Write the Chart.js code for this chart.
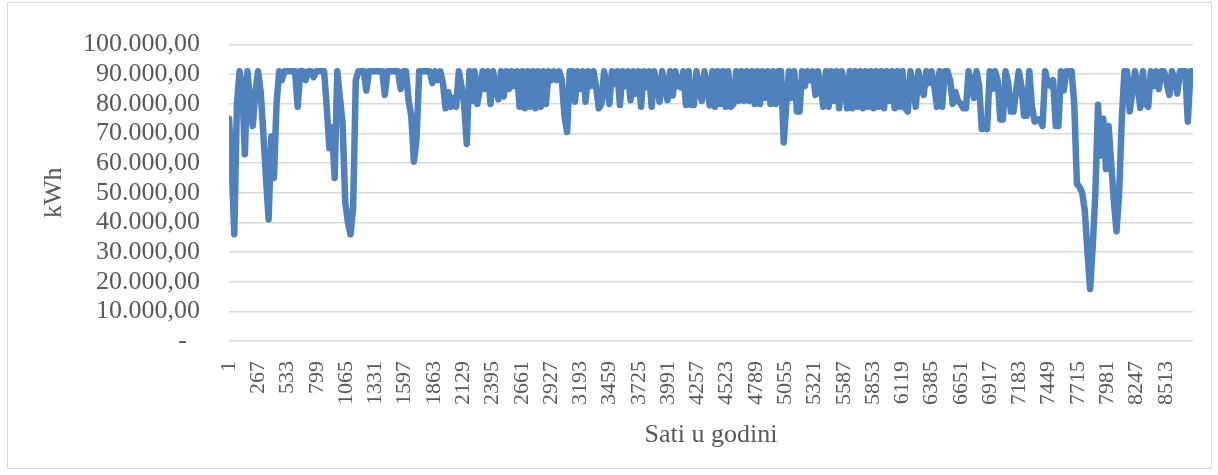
<!DOCTYPE html>
<html>
<head>
<meta charset="utf-8">
<title>Potrošnja po satima</title>
<script src="https://cdn.jsdelivr.net/npm/chart.js@4.4.1/dist/chart.umd.min.js"></script>
<style>
    html, body { margin: 0; padding: 0; background: #ffffff; }
    #okvir { position: relative; width: 1218px; height: 475px; }
    #rub { position: absolute; left: 7px; top: 2px; width: 1203px; height: 465px; border: 1px solid #d9d9d9; }
    #graf { position: absolute; left: 0; top: 0; }
</style>
</head>
<body>
<div id="okvir">
    <div id="rub"></div>
    <canvas id="graf" width="1218" height="475"></canvas>
</div>
<script>
// Potrošnja u kWh, očitano jednom dnevno (sat 1, 25, 49, ... do 8760)
const kwh = [
    75000, 60000, 36000, 80000, 91000, 86000, 63000, 91000, 80000, 72500,
    84000, 91000, 84000, 70000, 55000, 41000, 69000, 55000, 80000, 91000,
    88000, 91000, 91000, 91000, 91000, 91000, 79000, 91000, 91000, 88000,
    91000, 91000, 89000, 91000, 91000, 91000, 91000, 79000, 65000, 72000,
    55000, 91000, 82000, 73500, 47000, 40000, 36000, 45000, 88000, 91000,
    91000, 91000, 84500, 91000, 91000, 91000, 91000, 91000, 91000, 83000,
    91000, 91000, 91000, 91000, 91000, 85000, 91000, 91000, 81000, 76000,
    60500, 68000, 91000, 91000, 91000, 91000, 91000, 87000, 91000, 88000,
    91000, 87000, 78500, 84000, 79000, 82000, 79000, 91000, 86000, 80000,
    66500, 91000, 81000, 91000, 80000, 85000, 91000, 85000, 91000, 80000,
    91000, 85000, 81500, 91000, 82500, 91000, 85000, 91000, 86000, 91000,
    79000, 91000, 78500, 91000, 79000, 91000, 78500, 91000, 79000, 91000,
    80000, 91000, 88000, 91000, 88000, 91000, 88000, 76000, 70500, 91000,
    91000, 80700, 91000, 85000, 91000, 80700, 91000, 86000, 91000, 85600,
    78500, 80000, 91000, 86000, 80000, 91000, 86700, 91000, 79600, 91000,
    86000, 91000, 81200, 91000, 83400, 91000, 79000, 91000, 85600, 91000,
    79000, 91000, 86000, 80700, 91000, 86000, 81200, 91000, 82800, 91000,
    86000, 85600, 91000, 79600, 91000, 79600, 79600, 91000, 84500, 81000,
    91000, 86000, 79500, 91000, 79000, 91000, 80000, 91000, 79000, 91000,
    79000, 80000, 91000, 81000, 91000, 81000, 91000, 81000, 91000, 80000,
    91000, 80000, 91000, 82000, 91000, 80000, 91000, 80000, 91000, 91000,
    67000, 80000, 91000, 82000, 91000, 77400, 77400, 91000, 86000, 91000,
    88000, 91000, 83000, 91000, 86000, 79000, 91000, 79000, 91000, 81000,
    91000, 78500, 91000, 86500, 78500, 91000, 78500, 91000, 79000, 91000,
    78500, 91000, 79000, 91000, 78500, 91000, 79000, 91000, 78500, 91000,
    81000, 91000, 78500, 91000, 79000, 91000, 78500, 77400, 91000, 86000,
    79000, 91000, 86000, 83000, 91000, 87000, 91000, 86000, 79000, 91000,
    79000, 91000, 91000, 88000, 80000, 84000, 81000, 80000, 78500, 78500,
    91000, 87000, 82000, 91000, 86000, 71500, 72000, 71500, 91000, 85000,
    91000, 88000, 74700, 74700, 91000, 87000, 77400, 77400, 84500, 91000,
    86000, 76000, 76000, 91000, 79000, 74000, 74700, 74700, 72500, 91000,
    87000, 86000, 88000, 72500, 72500, 91000, 84500, 91000, 91000, 91000,
    80000, 53000, 52000, 50000, 44000, 30000, 17500, 32000, 50000, 79700,
    62600, 75000, 58000, 72500, 60000, 47000, 37000, 50000, 74700, 91000,
    91000, 77400, 84000, 91000, 86000, 78700, 91000, 80000, 79000, 91000,
    86000, 91000, 85000, 91000, 91000, 87000, 83000, 91000, 88000, 83500,
    91000, 91000, 91000, 74000, 91000, 91000
];

// Sat u godini za svako očitanje (svaka 24 sata, zadnje na 8760)
const sati = kwh.map((_, i) => Math.min(1 + 24 * i, 8760));

// Oznake na osi X svakih 266 sati
const oznakeSati = [1, 267, 533, 799, 1065, 1331, 1597, 1863, 2129, 2395, 2661, 2927, 3193,
    3459, 3725, 3991, 4257, 4523, 4789, 5055, 5321, 5587, 5853, 6119, 6385, 6651, 6917,
    7183, 7449, 7715, 7981, 8247, 8513];

const naslovX = 'Sati u godini';
const naslovY = 'kWh';

// Format brojeva: 90.000,00 ; nula kao crtica
function formatKwh(v) {
    if (v === 0) return '-\u00a0\u00a0';
    return String(v).replace(/\B(?=(\d{3})+(?!\d))/g, '.') + ',00';
}

document.addEventListener('DOMContentLoaded', function () {
    const tocke = sati.map((h, i) => ({ x: h, y: kwh[i] }));
    const siva = '#595959';
    const font = 'Liberation Serif, Times New Roman, serif';

    new Chart(document.getElementById('graf').getContext('2d'), {
        type: 'line',
        data: {
            datasets: [{
                data: tocke,
                borderColor: 'rgb(79, 129, 189)',
                borderWidth: 6.5,
                borderJoinStyle: 'round',
                borderCapStyle: 'round',
                pointRadius: 0,
                tension: 0,
                fill: false
            }]
        },
        options: {
            responsive: false,
            animation: false,
            layout: { padding: { top: 36, right: 25, left: 0, bottom: 0 } },
            plugins: {
                legend: { display: false },
                tooltip: { enabled: false }
            },
            scales: {
                x: {
                    type: 'linear',
                    min: 1,
                    max: 8760,
                    afterBuildTicks: function (scale) {
                        scale.ticks = oznakeSati.map(v => ({ value: v }));
                    },
                    afterFit: function (scale) { scale.height = 134; },
                    grid: { display: false, drawTicks: false },
                    border: { display: false },
                    ticks: {
                        autoSkip: false,
                        minRotation: 90,
                        maxRotation: 90,
                        padding: 20,
                        color: siva,
                        font: { family: font, size: 22 },
                        callback: v => String(v)
                    },
                    title: {
                        display: true,
                        text: naslovX,
                        color: siva,
                        font: { family: font, size: 26 },
                        padding: { top: 0, bottom: 24 }
                    }
                },
                y: {
                    min: 0,
                    max: 100000,
                    afterFit: function (scale) { scale.width = 229; },
                    grid: { color: '#d9d9d9', lineWidth: 1.5, drawTicks: false },
                    border: { display: false },
                    ticks: {
                        stepSize: 10000,
                        autoSkip: false,
                        padding: 29,
                        color: siva,
                        font: { family: font, size: 26 },
                        callback: formatKwh
                    },
                    title: {
                        display: true,
                        text: naslovY,
                        color: siva,
                        font: { family: font, size: 26 },
                        padding: { top: 39, bottom: 0 }
                    }
                }
            }
        }
    });
});
</script>
</body>
</html>
